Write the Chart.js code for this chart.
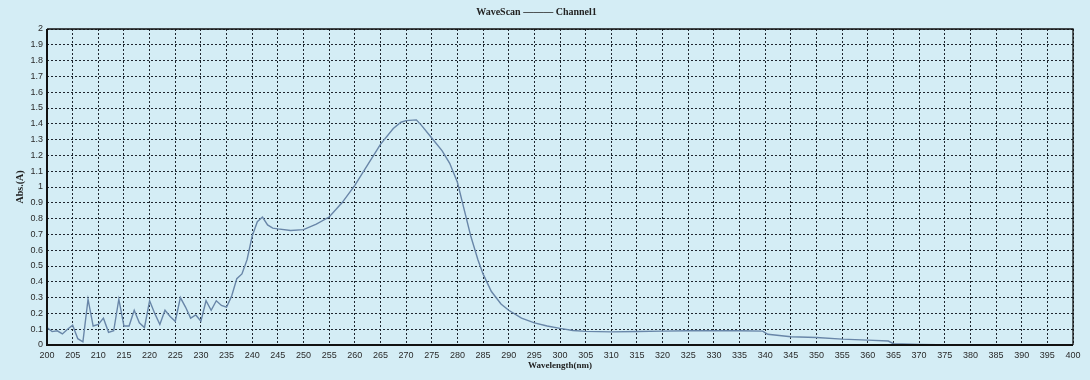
<!DOCTYPE html>
<html>
<head>
<meta charset="utf-8">
<script src="https://cdn.jsdelivr.net/npm/chart.js@4.4.1/dist/chart.umd.min.js"></script>
<style>
  html, body { margin: 0; padding: 0; background: #d4edf5; }
  #wrap { width: 1090px; height: 380px; }
</style>
</head>
<body>
<div id="wrap"><canvas id="c" width="1090" height="380"></canvas></div>
<script>
// Wavelength (nm) samples
const wavelengths = [
  200,201,202,203,204,205,206,207,208,209,
  210,211,212,213,214,215,216,217,218,219,
  220,221,222,223,224,225,226,227,228,229,
  230,231,232,233,234,235,236,237,238,239,
  240,241,242,243,244,245,247.5,250,252.5,255,
  257.5,260,262.5,265,267.5,269,270,272,273,275,
  277,278.5,280,281.3,282.6,284,285,286.6,288.5,290,
  292.5,295,297.5,300,302.5,305,310,315,320,325,
  330,335,339.5,340.5,345,350,355,360,364,365,
  370,377,385,400
];
// Absorbance (A) values for Channel1
const absorbance = [
  0.11,0.085,0.09,0.07,0.10,0.125,0.04,0.02,0.29,0.12,
  0.13,0.17,0.08,0.09,0.29,0.12,0.12,0.22,0.14,0.11,
  0.28,0.20,0.13,0.22,0.18,0.15,0.30,0.24,0.17,0.19,
  0.15,0.28,0.22,0.28,0.25,0.24,0.31,0.42,0.45,0.54,
  0.69,0.78,0.81,0.76,0.74,0.735,0.725,0.73,0.765,0.81,
  0.90,1.01,1.14,1.27,1.37,1.41,1.42,1.425,1.39,1.31,
  1.23,1.15,1.03,0.86,0.69,0.54,0.45,0.34,0.26,0.22,
  0.17,0.14,0.12,0.105,0.092,0.086,0.083,0.085,0.088,0.09,
  0.09,0.09,0.088,0.068,0.052,0.047,0.037,0.031,0.025,0.008,
  0.003,0.0,0.0,0.0
];
const xTickStep = 5;   // 200, 205, ... 400
const yTickStep = 0.1; // 0, 0.1, ... 2
const seriesName = "Channel1";
const chartTitle = "WaveScan \u2014\u2014\u2014 Channel1";
const xTitle = "Wavelength(nm)";
const yTitle = "Abs.(A)";

const points = wavelengths.map((w, i) => ({ x: w, y: absorbance[i] }));

// solid plot frame: heavier left/bottom axes, thinner top/right
const frame = {
  id: 'frame',
  afterDatasetsDraw(chart) {
    const { ctx, chartArea: a } = chart;
    ctx.save();
    ctx.setLineDash([]);
    ctx.strokeStyle = '#111';
    ctx.lineWidth = 1.3;
    ctx.beginPath();
    ctx.moveTo(a.left, a.top); ctx.lineTo(a.right, a.top); ctx.lineTo(a.right, a.bottom);
    ctx.stroke();
    ctx.lineWidth = 2;
    ctx.beginPath();
    ctx.moveTo(a.left, a.top); ctx.lineTo(a.left, a.bottom); ctx.lineTo(a.right, a.bottom);
    ctx.stroke();
    ctx.restore();
  }
};

const gridStyle = {
  color: 'rgba(10,15,25,0.9)',
  lineWidth: 1,
  drawTicks: false
};
const borderStyle = { display: false, dash: [2, 2] };

new Chart(document.getElementById('c'), {
  type: 'line',
  data: {
    datasets: [{
      label: seriesName,
      data: points,
      borderColor: '#6886a8',
      borderWidth: 1.4,
      pointRadius: 0,
      tension: 0,
      fill: false
    }]
  },
  options: {
    responsive: false,
    animation: false,
    devicePixelRatio: 1,
    layout: { padding: { left: 0, right: 17, top: 0, bottom: 0 } },
    plugins: {
      legend: { display: false },
      tooltip: { enabled: false },
      title: {
        display: true,
        text: chartTitle,
        color: '#222',
        font: { family: 'Liberation Serif', size: 10, weight: 'bold' },
        padding: { top: 6, bottom: 11 }
      }
    },
    scales: {
      x: {
        type: 'linear',
        min: 200,
        max: 400,
        afterFit(s) { s.height = 35; },
        ticks: {
          stepSize: xTickStep,
          autoSkip: false,
          maxRotation: 0,
          color: '#2a2a2a',
          padding: 5,
          font: { family: 'Liberation Sans', size: 9 }
        },
        grid: Object.assign({}, gridStyle),
        border: Object.assign({}, borderStyle),
        title: {
          display: true,
          text: xTitle,
          color: '#222',
          font: { family: 'Liberation Serif', size: 9, weight: 'bold' },
          padding: { top: 0, bottom: 9 }
        }
      },
      y: {
        type: 'linear',
        min: 0,
        max: 2,
        afterFit(s) { s.width = 47; },
        ticks: {
          stepSize: yTickStep,
          autoSkip: false,
          color: '#2a2a2a',
          padding: 4,
          font: { family: 'Liberation Sans', size: 9 },
          callback: v => String(Math.round(v * 10) / 10)
        },
        grid: Object.assign({}, gridStyle),
        border: Object.assign({}, borderStyle),
        title: {
          display: true,
          text: yTitle,
          color: '#222',
          font: { family: 'Liberation Serif', size: 10, weight: 'bold' },
          padding: { top: 14, bottom: 0 }
        }
      }
    }
  },
  plugins: [frame]
});
</script>
</body>
</html>
